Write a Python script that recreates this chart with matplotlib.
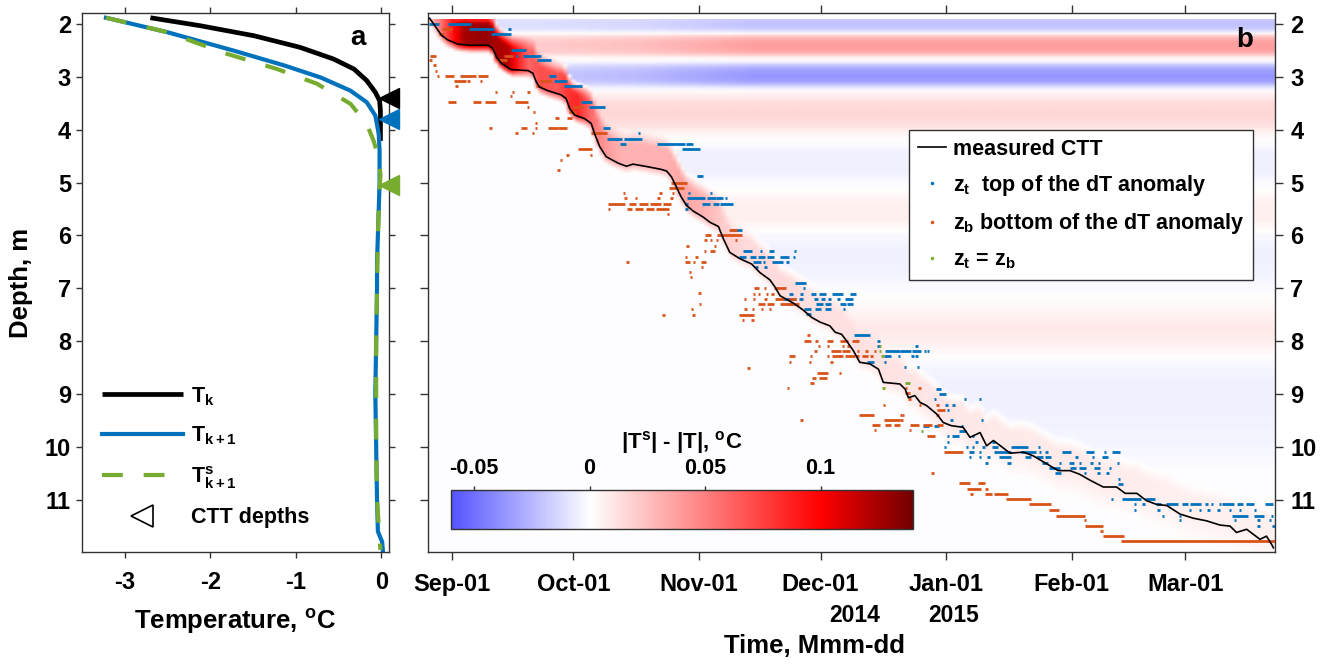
import numpy as np
import matplotlib
matplotlib.use('Agg')
import matplotlib.pyplot as plt
import matplotlib.transforms as mtransforms
from matplotlib.colors import LinearSegmentedColormap, Normalize
from matplotlib.lines import Line2D

plt.rcParams['font.family'] = ['Liberation Sans', 'DejaVu Sans']
plt.rcParams['font.weight'] = 'bold'
plt.rcParams['axes.unicode_minus'] = False
plt.rcParams['mathtext.fontset'] = 'custom'
plt.rcParams['mathtext.rm'] = 'Liberation Sans:bold'
plt.rcParams['mathtext.it'] = 'Liberation Sans:bold'
plt.rcParams['mathtext.bf'] = 'Liberation Sans:bold'
plt.rcParams['mathtext.default'] = 'rm'

# ---------------- panel a : temperature profiles ----------------
tk_depth = [1.88, 2.03, 2.22, 2.44, 2.66, 2.85, 3.07, 3.29, 3.45, 3.64, 4.21]
tk_temp = [-2.70, -2.12, -1.49, -0.95, -0.56, -0.32, -0.17, -0.07, -0.02, -0.01, -0.01]

tk1_depth = [1.88, 2.15, 2.50, 2.78, 3.01, 3.26, 3.48, 3.73, 4.08, 4.40, 5.0, 5.5, 6.0,
             6.5, 7.0, 8.0, 9.0, 10.0, 11.0, 11.6, 11.8, 12.0]
tk1_temp = [-3.22, -2.51, -1.73, -1.14, -0.71, -0.36, -0.17, -0.07, -0.03, -0.02, -0.02,
            -0.03, -0.04, -0.05, -0.05, -0.06, -0.07, -0.06, -0.05, -0.04, 0.01, 0.02]

tks_depth = [1.88, 2.15, 2.56, 2.85, 3.13, 3.51, 3.89, 4.21, 4.53, 4.85, 5.5, 6.0, 7.0,
             8.0, 9.0, 10.0, 11.0, 11.5, 11.95]
tks_temp = [-3.22, -2.51, -1.81, -1.22, -0.75, -0.36, -0.17, -0.09, -0.03, -0.01, -0.03,
            -0.04, -0.05, -0.06, -0.06, -0.06, -0.05, -0.03, -0.01]

ctt_marker_depth = [3.40, 3.80, 5.05]

# ---------------- panel b : CTT line (days since 2014-09-01) ----------------
ctt_day = [-5.5, -4.3, -2.6, -1.0, 1.5, 4.8, 9.0, 10.1, 11.0, 12.2, 14.6, 18.8, 20.0, 20.8,
           21.6, 23.7, 27.0, 28.2, 29.1, 30.3, 32.8, 34.4, 35.2, 36.5, 38.1, 41.0, 43.1,
           44.7, 48.4, 51.7, 53.0, 54.2, 55.4, 56.6, 57.9, 59.6, 62.0, 63.7, 65.8, 67.0,
           68.6, 71.1, 74.0, 76.0, 78.5, 79.8, 81.0, 84.3, 86.7, 88.8, 90.9, 93.3, 94.6,
           96.2, 97.4, 99.1, 100.7, 103.2, 105.3, 106.5, 110.6, 111.9, 112.7, 114.3, 115.6,
           117.2, 119.7, 121.3, 123.3, 126.2, 127.9, 130.4, 132.0, 133.7, 137.8, 141.1,
           143.5, 147.7, 149.7, 152.6, 155.0, 157.5, 160.8, 164.1, 166.2, 169.1, 171.5,
           174.0, 176.5, 179.7, 183.0, 186.3, 189.6, 192.1, 193.7, 196.2, 199.5, 201.1,
           202.4, 202.8]
ctt_depth = [1.89, 2.02, 2.21, 2.30, 2.38, 2.40, 2.40, 2.46, 2.62, 2.74, 2.86, 2.88, 2.93,
             3.09, 3.19, 3.26, 3.34, 3.41, 3.60, 3.72, 3.79, 3.88, 4.07, 4.32, 4.51, 4.63,
             4.69, 4.65, 4.70, 4.75, 4.78, 4.89, 5.08, 5.27, 5.43, 5.54, 5.65, 5.75, 5.83,
             6.06, 6.32, 6.44, 6.54, 6.70, 6.84, 6.98, 7.14, 7.28, 7.41, 7.55, 7.64, 7.71,
             7.83, 7.87, 7.99, 8.18, 8.40, 8.43, 8.53, 8.78, 8.81, 8.91, 9.07, 9.03, 9.16,
             9.22, 9.38, 9.54, 9.60, 9.63, 9.82, 9.73, 9.98, 9.88, 10.12, 10.10, 10.17,
             10.36, 10.45, 10.45, 10.52, 10.63, 10.76, 10.76, 10.88, 10.88, 11.02, 11.09,
             11.11, 11.27, 11.35, 11.40, 11.48, 11.50, 11.62, 11.56, 11.75, 11.69, 11.85,
             11.91]

# anomaly field ingredients
bg_depth = [1.9, 2.0, 2.1, 2.17, 2.25, 2.35, 2.45, 2.55, 2.62, 2.7, 2.8, 2.9, 3.0, 3.1,
            3.2, 3.3, 3.5, 3.7, 3.9, 4.05, 4.2, 4.5, 4.8, 5.1, 5.4, 5.7, 6.0, 6.3, 6.7,
            7.1, 7.5, 7.8, 8.1, 8.4, 8.8, 9.2, 9.6, 10.0, 10.5, 11.0, 12.0]
bg_anom = [-0.018, -0.022, -0.018, 0.0, 0.028, 0.038, 0.038, 0.032, 0.008, 0.0, -0.025,
           -0.035, -0.037, -0.032, -0.008, 0.005, 0.014, 0.016, 0.013, 0.005, 0.0, -0.005,
           -0.005, 0.0, 0.006, 0.006, -0.002, -0.005, -0.004, 0.0, 0.005, 0.009, 0.005,
           -0.002, -0.005, -0.005, -0.004, -0.003, 0.0, 0.0, 0.0]
# the shallow stripes (above 3.25 m) are weaker before November
stripe_day = [-6, 25, 45, 75, 205]
stripe_gain = [0.5, 0.55, 0.65, 1.0, 1.0]
front_day = [-6, -3, 0, 3, 8, 14, 17, 19, 22, 26, 29, 31, 34, 38, 42, 47, 52, 57, 62, 67,
             72, 80, 90, 100, 120, 140, 160, 180, 205]
front_anom = [0.02, 0.05, 0.09, 0.125, 0.13, 0.12, 0.08, 0.06, 0.07, 0.065, 0.08, 0.085,
              0.06, 0.04, 0.03, 0.03, 0.03, 0.035, 0.03, 0.02, 0.015, 0.015, 0.012, 0.012,
              0.01, 0.008, 0.008, 0.006, 0.006]
# how far (m) the faint anomaly reaches below the CTT
below_day = [-6, 100, 130, 205]
below_width = [0.15, 0.15, 0.5, 0.5]

# z_t runs: (depth, first day, last day)
zt_runs = [
    (2.00, -5.3, -3.5), (2.00, -0.6, 4.4), (2.09, 4.4, 10.1), (2.09, 14.2, 14.2),
    (2.18, 9.9, 14.2), (2.49, 14.8, 17.9), (2.60, 16.1, 16.1), (2.60, 17.9, 21.6),
    (2.68, 21.4, 24.1), (2.98, 24.3, 25.5), (3.07, 25.4, 28.0), (3.17, 28.0, 31.8),
    (3.48, 32.1, 34.2), (3.57, 34.2, 37.5), (3.96, 37.5, 38.7), (4.07, 46.2, 46.2),
    (4.17, 38.5, 41.8), (4.17, 42.8, 46.7), (4.27, 41.8, 42.6), (4.27, 50.9, 57.2),
    (4.27, 58.2, 59.2), (4.37, 57.2, 61.0), (4.87, 60.8, 61.6),
    (5.20, 58.6, 58.6), (5.20, 63.9, 63.9), (5.29, 58.3, 62.2), (5.29, 63.4, 64.8),
    (5.29, 65.5, 66.6), (5.29, 67.6, 67.6), (5.40, 57.9, 57.9), (5.40, 62.0, 63.5),
    (5.40, 64.8, 65.6), (5.40, 66.4, 69.2), (5.49, 57.9, 57.9), (5.89, 69.1, 71.4),
    (6.30, 72.2, 73.8), (6.30, 76.3, 76.3), (6.30, 78.5, 79.3), (6.30, 84.7, 84.7),
    (6.40, 71.1, 72.2), (6.40, 73.8, 74.8), (6.40, 75.9, 77.0), (6.40, 78.1, 79.3),
    (6.40, 81.4, 82.8), (6.40, 84.5, 84.5), (6.50, 74.6, 76.0), (6.50, 77.0, 77.0),
    (6.50, 79.3, 81.4), (6.50, 82.9, 82.9), (6.60, 75.2, 75.2), (6.60, 77.4, 77.4),
    (6.90, 84.9, 87.2), (7.00, 86.9, 86.9), (7.10, 83.5, 84.0), (7.10, 86.3, 86.3),
    (7.10, 89.0, 89.6), (7.10, 90.9, 92.1), (7.10, 94.2, 96.2), (7.10, 98.7, 99.5),
    (7.20, 82.0, 84.7), (7.20, 85.9, 86.5), (7.20, 89.6, 90.0), (7.20, 91.3, 91.7),
    (7.20, 93.2, 93.2), (7.20, 95.4, 95.4), (7.20, 97.4, 98.7), (7.29, 83.1, 83.7),
    (7.29, 90.1, 91.3), (7.29, 92.5, 93.3), (7.29, 96.2, 97.0), (7.29, 97.9, 98.7),
    (7.39, 87.2, 88.4), (7.39, 90.0, 90.7), (7.39, 92.5, 93.3), (7.39, 96.8, 96.8),
    (7.49, 87.7, 88.4), (7.89, 99.5, 102.9), (7.99, 105.3, 105.3), (8.09, 105.3, 105.3),
    (8.09, 114.7, 114.7), (8.19, 107.2, 110.2), (8.19, 110.8, 113.1), (8.19, 113.8, 115.6),
    (8.19, 116.8, 116.8), (8.19, 117.6, 117.6), (8.29, 106.9, 108.1), (8.29, 110.4, 110.4),
    (8.29, 113.7, 113.7), (8.29, 114.7, 114.7), (8.39, 102.8, 103.9), (8.39, 106.9, 106.9),
    (8.49, 111.8, 111.8), (8.49, 115.1, 115.1), (8.90, 119.7, 120.5), (9.00, 120.5, 121.7),
    (9.10, 119.3, 119.3), (9.10, 126.7, 126.7), (9.10, 130.4, 130.4), (9.20, 122.1, 122.1),
    (9.20, 123.8, 123.8), (9.30, 122.5, 122.5), (9.50, 123.3, 123.3), (9.50, 130.8, 130.8),
    (9.60, 116.6, 117.6), (9.60, 119.3, 119.9), (9.60, 125.9, 125.9), (9.70, 125.4, 126.7),
    (9.80, 122.5, 122.5), (9.80, 123.8, 125.0), (9.80, 128.7, 128.7), (9.90, 122.5, 122.5),
    (9.90, 129.5, 129.5), (9.90, 133.7, 133.7), (10.00, 121.7, 121.7), (10.00, 127.1, 127.1),
    (10.00, 128.7, 128.7), (10.00, 131.2, 131.2), (10.00, 133.7, 134.5), (10.00, 138.4, 141.9),
    (10.00, 145.0, 145.0), (10.10, 127.9, 128.7), (10.10, 130.4, 130.4), (10.10, 134.1, 137.8),
    (10.10, 140.7, 143.9), (10.10, 145.2, 145.2), (10.10, 146.8, 146.8), (10.10, 150.9, 152.6),
    (10.10, 156.9, 158.2), (10.10, 161.3, 161.3), (10.10, 163.3, 164.6), (10.20, 127.9, 127.9),
    (10.20, 130.4, 130.4), (10.20, 132.5, 132.5), (10.20, 135.3, 137.8), (10.20, 141.9, 142.7),
    (10.20, 144.4, 145.6), (10.20, 146.8, 147.7), (10.20, 154.2, 154.2), (10.20, 158.3, 158.3),
    (10.20, 160.8, 161.6), (10.30, 132.0, 132.0), (10.30, 137.4, 137.8), (10.30, 146.0, 146.8),
    (10.30, 150.1, 150.1), (10.30, 152.6, 153.4), (10.30, 155.0, 155.0), (10.30, 157.9, 157.9),
    (10.30, 159.8, 159.8), (10.30, 164.5, 164.5), (10.40, 147.7, 149.7), (10.40, 153.0, 153.8),
    (10.40, 155.0, 156.3), (10.40, 158.7, 159.6), (10.40, 162.5, 162.5), (10.50, 149.3, 150.0),
    (10.50, 156.3, 156.3), (10.50, 159.6, 159.6), (10.50, 161.8, 161.8), (10.60, 164.7, 164.7),
    (10.70, 164.8, 165.3), (10.99, 162.9, 162.9), (10.99, 165.7, 169.9), (10.99, 171.5, 173.2),
    (11.09, 168.6, 168.6), (11.09, 170.7, 170.7), (11.09, 174.0, 174.8), (11.09, 176.5, 178.9),
    (11.09, 180.6, 181.4), (11.09, 182.6, 184.7), (11.09, 186.3, 186.3), (11.09, 187.6, 187.6),
    (11.09, 189.6, 189.6), (11.09, 190.3, 192.9), (11.09, 194.1, 195.0), (11.09, 196.4, 197.7),
    (11.09, 201.1, 202.3), (11.19, 168.6, 168.6), (11.19, 174.4, 174.4), (11.19, 182.2, 182.2),
    (11.19, 184.7, 184.7), (11.19, 186.8, 186.8), (11.19, 189.2, 189.2), (11.19, 192.1, 192.1),
    (11.19, 194.5, 194.5), (11.19, 198.3, 198.3), (11.30, 175.6, 175.6), (11.30, 179.7, 179.7),
    (11.30, 193.0, 196.2), (11.30, 198.3, 200.3), (11.30, 202.4, 202.4), (11.39, 179.7, 179.7),
    (11.39, 193.3, 193.3), (11.39, 199.1, 199.1), (11.39, 202.0, 202.0), (11.49, 199.1, 199.1),
    (11.49, 202.8, 202.8),
]

# z_b runs: (depth, first day, last day)
zb_runs = [
    (2.09, -2.2, -0.2), (2.18, -3.0, -2.2), (2.60, -5.1, -4.3), (2.68, -5.3, -5.3),
    (2.60, 13.2, 14.8), (2.68, 11.4, 13.2), (2.78, -4.3, -4.3), (2.88, -3.9, -3.9),
    (2.98, -3.5, -3.5), (2.98, -1.4, 0.25), (2.98, 2.3, 5.6), (2.98, 6.8, 8.5),
    (3.07, 0.7, 3.1), (3.07, 4.1, 4.1), (3.07, 7.2, 7.2), (3.07, 22.0, 24.1),
    (3.17, 1.1, 1.1), (3.17, 21.1, 22.0), (3.28, 10.9, 10.9), (3.28, 15.1, 15.1),
    (3.28, 18.9, 18.9), (3.36, 14.6, 14.6), (3.48, -0.6, 0.8), (3.48, 5.6, 6.8),
    (3.48, 8.5, 10.7), (3.48, 15.9, 18.6), (3.57, 18.8, 18.8), (3.57, 30.3, 32.1),
    (3.66, 20.3, 20.3), (3.66, 29.3, 30.3), (3.77, 25.8, 26.2), (3.77, 28.8, 29.3),
    (3.87, 20.8, 20.8), (3.96, 9.5, 9.5), (3.96, 17.4, 18.3), (3.96, 20.8, 20.8),
    (3.96, 24.1, 25.8), (3.96, 26.6, 28.2), (4.07, 15.9, 15.9), (4.07, 20.0, 20.0),
    (4.07, 34.6, 38.1), (4.37, 31.5, 34.4), (4.47, 28.5, 28.5), (4.47, 34.4, 34.4),
    (4.57, 27.0, 27.0), (4.77, 26.3, 26.3), (5.00, 54.5, 57.8), (5.10, 54.0, 57.0),
    (5.20, 42.5, 42.5), (5.20, 51.5, 51.5), (5.20, 54.6, 54.6), (5.29, 42.9, 42.9),
    (5.29, 45.4, 45.4), (5.29, 51.0, 51.0), (5.29, 54.2, 54.2), (5.40, 38.8, 42.5),
    (5.40, 43.9, 45.2), (5.40, 46.6, 48.2), (5.40, 49.3, 51.2), (5.40, 52.5, 53.7),
    (5.49, 38.8, 38.8), (5.49, 43.6, 44.1), (5.49, 45.4, 46.8), (5.49, 48.1, 49.5),
    (5.49, 50.6, 53.2), (5.59, 53.3, 53.3), (5.89, 68.6, 70.1), (5.99, 62.9, 63.7),
    (5.99, 65.8, 71.2), (6.09, 62.6, 62.6), (6.09, 63.9, 63.9), (6.09, 65.5, 65.5),
    (6.09, 70.1, 70.1), (6.19, 58.2, 58.2), (6.19, 64.9, 64.9), (6.30, 62.5, 62.5),
    (6.30, 64.1, 64.7), (6.40, 57.8, 57.8), (6.40, 60.4, 60.4), (6.50, 43.4, 43.4),
    (6.50, 57.9, 58.6), (6.50, 59.8, 59.8), (6.50, 61.7, 62.5), (6.60, 61.7, 61.7),
    (6.69, 58.8, 58.8), (6.79, 59.0, 59.0), (7.08, 61.1, 61.1), (7.00, 74.8, 75.6),
    (7.00, 77.3, 77.3), (7.00, 79.8, 82.2), (7.10, 74.6, 74.6), (7.10, 75.8, 75.8),
    (7.10, 77.8, 77.8), (7.10, 79.1, 79.1), (7.20, 72.3, 72.3), (7.20, 74.6, 74.6),
    (7.20, 77.4, 77.4), (7.20, 80.0, 81.8), (7.20, 83.5, 84.7), (7.29, 61.2, 61.2),
    (7.29, 75.9, 76.9), (7.29, 78.1, 79.3), (7.29, 81.2, 85.5), (7.39, 59.3, 59.3),
    (7.39, 72.5, 72.5), (7.39, 74.4, 74.4), (7.39, 76.5, 76.5), (7.39, 78.5, 78.5),
    (7.50, 52.2, 52.2), (7.50, 59.6, 59.6), (7.50, 71.3, 74.2), (7.60, 71.8, 71.8),
    (7.60, 74.2, 74.2), (7.89, 88.0, 88.0), (7.99, 87.2, 88.4), (7.99, 90.0, 90.0),
    (7.99, 93.0, 93.7), (7.99, 96.2, 97.4), (7.99, 99.1, 100.1), (8.09, 90.6, 90.6),
    (8.09, 92.8, 92.8), (8.09, 96.6, 96.6), (8.09, 97.9, 97.9), (8.19, 89.8, 89.8),
    (8.19, 94.0, 95.8), (8.19, 96.6, 97.9), (8.19, 100.2, 100.2), (8.19, 102.4, 102.4),
    (8.19, 104.5, 104.5), (8.29, 83.5, 84.3), (8.29, 88.6, 88.6), (8.29, 92.9, 92.9),
    (8.29, 94.2, 95.8), (8.29, 96.2, 96.2), (8.29, 97.4, 99.1), (8.29, 100.1, 100.1),
    (8.29, 101.6, 102.4), (8.29, 103.6, 103.6), (8.39, 83.5, 83.5), (8.39, 88.4, 88.4),
    (8.39, 93.7, 93.7), (8.50, 73.2, 73.2), (8.60, 90.5, 92.5), (8.60, 95.8, 95.8),
    (8.69, 89.2, 89.6), (8.69, 91.0, 92.3), (8.79, 88.8, 89.2), (8.88, 83.0, 83.0),
    (8.88, 112.1, 112.1), (8.88, 115.4, 115.4), (8.99, 112.1, 112.7), (9.09, 113.0, 113.0),
    (9.20, 106.7, 106.7), (9.20, 115.6, 115.6), (9.20, 119.9, 119.9), (9.30, 120.1, 121.5),
    (9.39, 100.9, 104.0), (9.39, 110.8, 110.8), (9.39, 111.4, 111.4), (9.39, 119.9, 119.9),
    (9.49, 86.3, 86.3), (9.49, 106.9, 110.2), (9.49, 111.0, 111.0), (9.59, 104.0, 105.3),
    (9.59, 107.3, 108.1), (9.59, 109.4, 110.2), (9.59, 113.5, 115.1), (9.59, 116.6, 118.1),
    (9.59, 120.1, 121.0), (9.69, 104.4, 104.4), (9.69, 113.1, 113.1), (9.79, 117.6, 118.9),
    (10.10, 121.7, 125.9), (10.49, 118.6, 118.6), (10.69, 125.4, 127.5), (10.69, 130.1, 131.4),
    (10.79, 127.5, 128.7), (10.79, 129.0, 130.2), (10.79, 132.0, 132.0), (10.89, 128.3, 128.3),
    (10.89, 131.8, 133.0), (10.89, 134.1, 137.0), (10.99, 137.0, 142.7), (11.09, 142.7, 147.7),
    (11.19, 147.7, 149.5), (11.30, 149.5, 156.1), (11.39, 156.3, 156.3), (11.49, 156.5, 160.4),
    (11.59, 160.4, 160.4), (11.69, 161.0, 165.6), (11.79, 165.6, 202.8),
]

# z_t = z_b points
zeq_runs = [(8.09, 105.7, 105.7), (8.19, 105.7, 105.7), (8.29, 106.3, 106.3),
            (8.79, 112.1, 112.7), (8.88, 106.5, 106.5), (9.70, 116.0, 116.0)]

month_ticks = [0, 30, 61, 91, 122, 153, 181]
month_labels = ['Sep-01', 'Oct-01', 'Nov-01', 'Dec-01', 'Jan-01', 'Feb-01', 'Mar-01']
year_days = [99.5, 123.9]
year_labels = ['2014', '2015']

cbar_ticks = [-0.05, 0, 0.05, 0.1]
cbar_labels = ['-0.05', '0', '0.05', '0.1']

# ---------------- colours ----------------
C_BLUE = (0.0, 0.447, 0.741)
C_ORANGE = (0.85, 0.325, 0.098)
C_GREEN = (0.466, 0.674, 0.188)
AX_COL = (0.2, 0.2, 0.2)

W, H = 1328, 664
fig = plt.figure(figsize=(W / 100, H / 100), dpi=100)


def fx(px):
    return px / W


def fy(py):
    return 1 - py / H


FS_TICK = 17
FS_LEG = 15.5
FS_LAB = 18.5
ax1 = fig.add_axes([fx(82), fy(552), fx(389) - fx(82), fy(13) - fy(552)])
ax2 = fig.add_axes([fx(428), fy(552), fx(1275) - fx(428), fy(13) - fy(552)])

for ax in (ax1, ax2):
    for s in ax.spines.values():
        s.set_color(AX_COL)
        s.set_linewidth(1.0)

# ---------------- panel a ----------------
l_k, = ax1.plot(tk_temp, tk_depth, color='k', lw=3.4, solid_capstyle='butt')
l_k1, = ax1.plot(tk1_temp, tk1_depth, color=C_BLUE, lw=3.0)
l_ks, = ax1.plot(tks_temp, tks_depth, color=C_GREEN, lw=3.0, dashes=(5, 5))
for d, c in zip(ctt_marker_depth, ['k', C_BLUE, C_GREEN]):
    ax1.plot([0.09], [d], marker='<', ms=14, color=c, mec=c, ls='', clip_on=False, zorder=5)

ax1.set_xlim(-3.5, 0.09)
ax1.set_ylim(11.99, 1.79)
ax1.set_xticks([-3, -2, -1, 0])
ax1.set_yticks(range(2, 12))
ax1.tick_params(axis='both', direction='out', length=4, width=1, color=AX_COL,
                labelsize=FS_TICK, top=True, right=True)
ax1.tick_params(axis='y', pad=4)
ax1.tick_params(axis='x', pad=10)
ax1.text(0.899, 0.953, 'a', transform=ax1.transAxes, fontsize=20, fontweight='bold',
         ha='center', va='center')

tri = Line2D([], [], marker='<', ms=16, mfc='white', mec='k', mew=1.2, ls='')
leg1 = ax1.legend([l_k, l_k1, l_ks, tri],
                  ['T$_k$', 'T$_{k+1}$', 'T$^s_{k+1}$', 'CTT depths'],
                  loc='upper left', bbox_to_anchor=(fx(102), fy(385)),
                  bbox_transform=fig.transFigure, frameon=False, fontsize=FS_LEG,
                  handlelength=3.75, handletextpad=0.4, labelspacing=0.78,
                  borderaxespad=0, borderpad=0)

fig.text(fx(235), fy(622), 'Temperature, $^o$C', fontsize=FS_LAB, fontweight='bold',
         ha='center', va='center')
fig.text(fx(21), fy(283), 'Depth, m', fontsize=FS_LAB, fontweight='bold', rotation=90,
         ha='center', va='center')

# ---------------- panel b : anomaly field ----------------
t_grid = np.arange(-6.0, 204.0, 1.0)
z_grid = np.arange(1.93, 12.0, 0.05)
ctt_t = np.interp(t_grid, ctt_day, ctt_depth)
front_t = np.interp(t_grid, front_day, front_anom)
below_t = np.interp(t_grid, below_day, below_width)
gain_t = np.interp(t_grid, stripe_day, stripe_gain)
bg_z = np.interp(z_grid, bg_depth, bg_anom)
dd = ctt_t[None, :] - z_grid[:, None]          # >0 : already frozen
FR = np.broadcast_to(front_t[None, :], dd.shape)
shallow = (z_grid < 3.25)[:, None]
BG = bg_z[:, None] * np.where(shallow, gain_t[None, :], 1.0)
w_in = np.clip((dd + below_t[None, :]) / below_t[None, :], 0, 1)   # entering the band
w_out = np.clip((dd - 0.4) / 0.25, 0, 1)                            # leaving the band
field = np.where(dd < 0, FR * w_in, FR * (1 - w_out) + BG * w_out)

cmap = LinearSegmentedColormap.from_list(
    'anom', [(0.0, (0.33, 0.33, 1.0)), (0.3, (1, 1, 1)), (0.8, (1, 0, 0)),
             (1.0, (0.45, 0, 0))])
norm = Normalize(vmin=-0.06, vmax=0.14)
im = ax2.imshow(field, extent=[t_grid[0] - 0.5, t_grid[-1] + 0.5, z_grid[-1] + 0.025,
                               z_grid[0] - 0.025],
                aspect='auto', cmap=cmap, norm=norm, interpolation='bilinear', zorder=0)


def draw_runs(runs, color):
    r = np.array(runs)
    ax2.hlines(r[:, 0], r[:, 1] - 0.3, r[:, 2] + 0.3, colors=[color], linewidth=2.0,
               zorder=3)


draw_runs(zt_runs, C_BLUE)
draw_runs(zb_runs, C_ORANGE)
draw_runs(zeq_runs, C_GREEN)
l_ctt, = ax2.plot(ctt_day, ctt_depth, color='k', lw=1.2, zorder=4)

ax2.set_xlim(-5.9, 203.2)
ax2.set_ylim(11.99, 1.79)
ax2.set_xticks(month_ticks)
ax2.set_xticklabels(month_labels)
ax2.set_yticks(range(2, 12))
ax2.tick_params(axis='both', direction='out', length=6, width=1, color=AX_COL,
                labelsize=FS_TICK, top=True, right=True, left=True, labelleft=False,
                labelright=True)
ax2.tick_params(axis='x', pad=9)
ax2.tick_params(axis='y', pad=5)
year_tr = mtransforms.blended_transform_factory(ax2.transData, fig.transFigure)
for xd, yl in zip(year_days, year_labels):
    ax2.text(xd, fy(615), yl, transform=year_tr, fontsize=16.5, fontweight='bold',
             ha='center', va='center')
fig.text(fx(814), fy(646), 'Time, Mmm-dd', fontsize=FS_LAB, fontweight='bold',
         ha='center', va='center')
ax2.text(0.9646, 0.95, 'b', transform=ax2.transAxes, fontsize=20, fontweight='bold',
         ha='center', va='center')

h_zt = Line2D([], [], marker='.', ms=3, color=C_BLUE, ls='')
h_zb = Line2D([], [], marker='.', ms=3, color=C_ORANGE, ls='')
h_eq = Line2D([], [], marker='.', ms=3, color=C_GREEN, ls='')
leg2 = ax2.legend([l_ctt, h_zt, h_zb, h_eq],
                  ['measured CTT', 'z$_t$  top of the dT anomaly',
                   'z$_b$ bottom of the dT anomaly', 'z$_t$ = z$_b$'],
                  loc='upper left', bbox_to_anchor=(fx(909), fy(130)),
                  bbox_transform=fig.transFigure, fontsize=FS_LEG, frameon=True,
                  fancybox=False, edgecolor=AX_COL, framealpha=1, handlelength=1.3,
                  handletextpad=0.35, labelspacing=0.62, borderaxespad=0,
                  borderpad=0.4)
leg2.get_frame().set_linewidth(1.0)

# colorbar inside panel b
cax = fig.add_axes([fx(451), fy(529), fx(913) - fx(451), fy(490) - fy(529)])
cb = fig.colorbar(im, cax=cax, orientation='horizontal')
cb.outline.set_edgecolor(AX_COL)
cb.outline.set_linewidth(1.0)
cax.xaxis.set_ticks_position('top')
cax.xaxis.set_label_position('top')
cb.set_ticks(cbar_ticks)
cb.set_ticklabels(cbar_labels)
cax.tick_params(axis='x', direction='out', length=3, width=1, color=AX_COL,
                labelsize=FS_LEG, pad=5)
cb.set_label('|T$^s$| - |T|, $^o$C', fontsize=16, fontweight='bold', labelpad=7)

fig.savefig('out.png', dpi=100)
